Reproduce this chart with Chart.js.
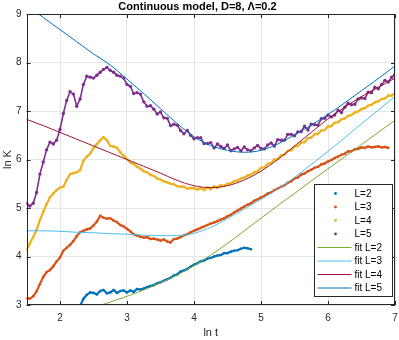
<!DOCTYPE html>
<html>
<head>
<meta charset="utf-8">
<script src="https://cdn.jsdelivr.net/npm/chart.js@4.4.0/dist/chart.umd.min.js"></script>
<style>
  html, body { margin: 0; padding: 0; background: #fff; }
  #wrap { width: 399px; height: 340px; }
</style>
</head>
<body>
<div id="wrap"><canvas id="myChart" width="399" height="340"></canvas></div>
<script>
// ln t sample grid of the simulation curves
const lnT = [
  1.50, 1.55, 1.60, 1.65, 1.70, 1.75, 1.80, 1.85, 1.90, 1.95,
  2.00, 2.05, 2.10, 2.15, 2.20, 2.25, 2.30, 2.35, 2.40, 2.45,
  2.50, 2.55, 2.60, 2.65, 2.70, 2.75, 2.80, 2.85, 2.90, 2.95,
  3.00, 3.05, 3.10, 3.15, 3.20, 3.25, 3.30, 3.35, 3.40, 3.45,
  3.50, 3.55, 3.60, 3.65, 3.70, 3.75, 3.80, 3.85, 3.90, 3.95,
  4.00, 4.05, 4.10, 4.15, 4.20, 4.25, 4.30, 4.35, 4.40, 4.45,
  4.50, 4.55, 4.60, 4.65, 4.70, 4.75, 4.80, 4.85, 4.90, 4.95,
  5.00, 5.05, 5.10, 5.15, 5.20, 5.25, 5.30, 5.35, 5.40, 5.45,
  5.50, 5.55, 5.60, 5.65, 5.70, 5.75, 5.80, 5.85, 5.90, 5.95,
  6.00, 6.05, 6.10, 6.15, 6.20, 6.25, 6.30, 6.35, 6.40, 6.45,
  6.50, 6.55, 6.60, 6.65, 6.70, 6.75, 6.80, 6.85, 6.90, 6.95,
  7.00
];

const lnK_L2 = [
  null, null, null, null, null, null, null, null, null, null,
  null, null, null, null, null, null, 2.98, 3.13, 3.21, 3.26,
  3.25, 3.22, 3.29, 3.31, 3.24, 3.26, 3.31, 3.25, 3.29, 3.30,
  3.26, 3.30, 3.27, 3.33, 3.32, 3.34, 3.37, 3.39, 3.41, 3.45,
  3.47, 3.50, 3.53, 3.56, 3.61, 3.63, 3.69, 3.71, 3.74, 3.79,
  3.83, 3.86, 3.90, 3.92, 3.96, 3.97, 4.00, 4.02, 4.03, 4.07,
  4.07, 4.10, 4.12, 4.13, 4.16, 4.18, 4.17, 4.15, null, null,
  null, null, null, null, null, null, null, null, null, null,
  null, null, null, null, null, null, null, null, null, null,
  null, null, null, null, null, null, null, null, null, null,
  null, null, null, null, null, null, null, null, null, null,
  null
];

const lnK_L3 = [
  3.14, 3.13, 3.18, 3.28, 3.43, 3.58, 3.68, 3.72, 3.80, 3.90,
  3.98, 4.12, 4.18, 4.24, 4.32, 4.42, 4.50, 4.53, 4.56, 4.58,
  4.64, 4.72, 4.84, 4.80, 4.78, 4.79, 4.74, 4.71, 4.65, 4.62,
  4.57, 4.52, 4.46, 4.43, 4.41, 4.39, 4.40, 4.36, 4.37, 4.35,
  4.33, 4.35, 4.31, 4.29, 4.36, 4.37, 4.40, 4.44, 4.46, 4.50,
  4.53, 4.56, 4.59, 4.62, 4.65, 4.68, 4.70, 4.73, 4.76, 4.79,
  4.83, 4.86, 4.91, 4.95, 4.99, 5.03, 5.07, 5.10, 5.15, 5.18,
  5.22, 5.25, 5.30, 5.32, 5.37, 5.40, 5.44, 5.47, 5.52, 5.55,
  5.61, 5.63, 5.69, 5.71, 5.76, 5.79, 5.83, 5.85, 5.90, 5.92,
  5.96, 5.99, 6.03, 6.06, 6.10, 6.12, 6.17, 6.17, 6.21, 6.22,
  6.25, 6.24, 6.27, 6.25, 6.26, 6.27, 6.25, 6.26, 6.24, null,
  null
];

const lnK_L4 = [
  4.13, 4.27, 4.40, 4.55, 4.75, 4.92, 5.08, 5.22, 5.30, 5.37,
  5.42, 5.44, 5.58, 5.70, 5.72, 5.74, 5.78, 5.98, 6.06, 6.12,
  6.24, 6.32, 6.40, 6.46, 6.40, 6.28, 6.27, 6.24, 6.15, 6.08,
  6.01, 5.94, 5.91, 5.85, 5.81, 5.76, 5.74, 5.68, 5.66, 5.61,
  5.59, 5.55, 5.53, 5.50, 5.49, 5.45, 5.44, 5.44, 5.40, 5.41,
  5.41, 5.38, 5.41, 5.37, 5.43, 5.39, 5.45, 5.42, 5.47, 5.46,
  5.50, 5.51, 5.55, 5.57, 5.61, 5.63, 5.67, 5.69, 5.74, 5.76,
  5.83, 5.84, 5.91, 5.93, 6.00, 6.01, 6.09, 6.10, 6.18, 6.19,
  6.27, 6.28, 6.35, 6.36, 6.44, 6.45, 6.52, 6.53, 6.60, 6.61,
  6.68, 6.69, 6.76, 6.77, 6.83, 6.85, 6.90, 6.92, 6.97, 6.99,
  7.04, 7.06, 7.11, 7.13, 7.18, 7.20, 7.25, 7.26, 7.32, 7.32,
  7.37
];

const lnK_L5 = [
  5.10, 5.04, 5.10, 5.32, 5.70, 5.95, 6.20, 6.36, 6.32, 6.40,
  6.62, 6.95, 7.22, 7.40, 7.35, 7.10, 7.25, 7.55, 7.72, 7.70,
  7.68, 7.74, 7.80, 7.86, 7.90, 7.84, 7.80, 7.74, 7.72, 7.68,
  7.55, 7.51, 7.36, 7.38, 7.35, 7.19, 7.10, 7.11, 7.04, 6.94,
  6.98, 6.86, 6.85, 6.70, 6.73, 6.71, 6.60, 6.53, 6.60, 6.50,
  6.43, 6.45, 6.45, 6.33, 6.33, 6.35, 6.24, 6.32, 6.27, 6.23,
  6.30, 6.18, 6.22, 6.25, 6.18, 6.26, 6.20, 6.18, 6.24, 6.29,
  6.23, 6.22, 6.30, 6.34, 6.28, 6.41, 6.40, 6.40, 6.52, 6.52,
  6.49, 6.57, 6.58, 6.69, 6.61, 6.73, 6.72, 6.71, 6.84, 6.85,
  6.92, 6.88, 6.92, 7.02, 6.97, 7.08, 7.16, 7.13, 7.14, 7.25,
  7.27, 7.26, 7.39, 7.38, 7.49, 7.46, 7.55, 7.63, 7.60, 7.70,
  7.76
];

// fitted curves
const fitT = [1.50, 1.75, 2.00, 2.25, 2.50, 2.75, 3.00, 3.25, 3.50, 3.75, 4.00, 4.25,
              4.50, 4.75, 5.00, 5.25, 5.50, 5.75, 6.00, 6.25, 6.50, 6.75, 7.00];
const fitL2 = [null, null, null, null, 2.95, 3.06, 3.18, 3.31, 3.46, 3.62, 3.81, 4.03,
               4.27, 4.53, 4.79, 5.05, 5.30, 5.56, 5.81, 6.06, 6.31, 6.56, 6.81];
const fitL3 = [4.53, 4.53, 4.52, 4.50, 4.49, 4.47, 4.46, 4.44, 4.43, 4.43, 4.48, 4.60,
               4.78, 4.98, 5.18, 5.39, 5.63, 5.90, 6.17, 6.45, 6.74, 7.02, 7.30];
const fitL4 = [6.83, 6.70, 6.56, 6.42, 6.28, 6.14, 6.00, 5.86, 5.72, 5.57, 5.46, 5.42,
               5.46, 5.58, 5.76, 6.00, 6.28, 6.56, 6.84, 7.08, 7.30, 7.49, 7.68];
const fitL5 = [9.18, 8.93, 8.68, 8.43, 8.18, 7.95, 7.66, 7.36, 7.05, 6.74, 6.47, 6.29,
               6.19, 6.15, 6.19, 6.32, 6.51, 6.71, 6.93, 7.17, 7.42, 7.67, 7.93];

const xTicks = [2, 3, 4, 5, 6, 7];
const yTicks = [3, 4, 5, 6, 7, 8, 9];

const seriesNames = ['L=2', 'L=3', 'L=4', 'L=5'];
const fitNames = ['fit L=2', 'fit L=3', 'fit L=4', 'fit L=5'];
const dataColors = ['#0072BD', '#D95319', '#EDB120', '#7E2F8E'];
const fitColors = ['#77AC30', '#4DBEEE', '#A2142F', '#0072BD'];

const FONT = '"Liberation Sans", Arial, Helvetica, sans-serif';

const pts = (xs, ys) => xs.map((x, i) => ({ x: x, y: ys[i] }));

// dense '.' markers: a thick trace plus dots gives the fuzzy band look
const dataSets = [lnK_L2, lnK_L3, lnK_L4, lnK_L5].map((ys, i) => ({
  label: seriesNames[i],
  data: pts(lnT, ys),
  showLine: true,
  borderColor: dataColors[i],
  backgroundColor: dataColors[i],
  borderWidth: i < 3 ? 2.2 : 1.6,
  pointRadius: i < 3 ? 1.3 : 1.7,
  pointBorderWidth: 0,
  order: 1,
  kind: 'dot'
}));

const fitSets = [fitL2, fitL3, fitL4, fitL5].map((ys, i) => ({
  label: fitNames[i],
  data: pts(fitT, ys),
  showLine: true,
  borderColor: fitColors[i],
  backgroundColor: fitColors[i],
  borderWidth: 1,
  pointRadius: 0,
  cubicInterpolationMode: 'monotone',
  order: 0,
  kind: 'line'
}));

// axes box with inward tick marks (MATLAB style)
const frame = {
  id: 'frame',
  afterDraw(chart) {
    const { ctx, chartArea: a, scales } = chart;
    ctx.save();
    ctx.strokeStyle = '#262626';
    ctx.lineWidth = 1;
    ctx.beginPath();
    xTicks.forEach(t => {
      const px = Math.round(scales.x.getPixelForValue(t)) + 0.5;
      ctx.moveTo(px, a.bottom); ctx.lineTo(px, a.bottom - 4);
      ctx.moveTo(px, a.top); ctx.lineTo(px, a.top + 4);
    });
    yTicks.forEach(t => {
      const py = Math.round(scales.y.getPixelForValue(t)) + 0.5;
      ctx.moveTo(a.left, py); ctx.lineTo(a.left + 4, py);
      ctx.moveTo(a.right, py); ctx.lineTo(a.right - 4, py);
    });
    ctx.stroke();
    ctx.strokeRect(Math.round(a.left) + 0.5, Math.round(a.top) + 0.5,
                   Math.round(a.right) - Math.round(a.left) - 1, Math.round(a.bottom) - Math.round(a.top) - 1);
    ctx.restore();
  }
};

// legend box inside the axes, lower right
const legendBox = {
  id: 'legendBox',
  afterDraw(chart) {
    const { ctx, chartArea: a } = chart;
    const sets = chart.data.datasets;
    const w = 78, rowH = 13.5;
    const h = sets.length * rowH + 4;
    const bx = Math.round(a.right - 3 - w) + 0.5;
    const by = Math.round(a.bottom - 9 - h) + 0.5;
    ctx.save();
    ctx.fillStyle = '#fff';
    ctx.fillRect(bx, by, w, h);
    ctx.strokeStyle = '#262626';
    ctx.lineWidth = 1;
    ctx.strokeRect(bx, by, w, h);
    ctx.font = '10px ' + FONT;
    ctx.textBaseline = 'middle';
    ctx.textAlign = 'left';
    sets.forEach((ds, i) => {
      const cy = by + 9 + i * rowH;
      if (ds.kind === 'dot') {
        ctx.fillStyle = ds.borderColor;
        ctx.beginPath();
        ctx.arc(bx + 21, cy, 1.4, 0, Math.PI * 2);
        ctx.fill();
      } else {
        ctx.strokeStyle = ds.borderColor;
        ctx.beginPath();
        ctx.moveTo(bx + 3, cy);
        ctx.lineTo(bx + 37, cy);
        ctx.stroke();
      }
      ctx.fillStyle = '#000';
      ctx.fillText(ds.label, bx + 40, cy + 0.5);
    });
    ctx.restore();
  }
};

new Chart(document.getElementById('myChart'), {
  type: 'scatter',
  data: { datasets: dataSets.concat(fitSets) },
  options: {
    responsive: false,
    animation: false,
    layout: { padding: { left: 0, right: 4, top: 0, bottom: 0 } },
    plugins: {
      legend: { display: false },
      tooltip: { enabled: false },
      title: {
        display: true,
        text: 'Continuous model, D=8, Λ=0.2',
        color: '#000',
        font: { family: FONT, size: 11, weight: 'bold', lineHeight: 1.1 },
        padding: { top: 1, bottom: 1 }
      }
    },
    scales: {
      x: {
        type: 'linear',
        min: 1.5,
        max: 7,
        afterBuildTicks: s => { s.ticks = xTicks.map(v => ({ value: v })); },
        afterFit: s => { s.height = 35; s.paddingLeft = 0; s.paddingRight = 0; },
        grid: { color: '#e6e6e6', drawTicks: false },
        border: { display: false },
        ticks: { color: '#262626', font: { family: FONT, size: 10 }, padding: 7 },
        title: { display: true, text: 'ln t', color: '#262626', font: { family: FONT, size: 11 }, padding: { top: 1, bottom: 0 } }
      },
      y: {
        type: 'linear',
        min: 3,
        max: 9,
        afterBuildTicks: s => { s.ticks = yTicks.map(v => ({ value: v })); },
        afterFit: s => { s.width = 26.5; s.paddingTop = 0; s.paddingBottom = 0; },
        grid: { color: '#e6e6e6', drawTicks: false },
        border: { display: false },
        ticks: { color: '#262626', font: { family: FONT, size: 10 }, padding: 5 },
        title: { display: true, text: 'ln K', color: '#262626', font: { family: FONT, size: 11 }, padding: { top: 1, bottom: 0 } }
      }
    }
  },
  plugins: [frame, legendBox]
});
</script>
</body>
</html>
